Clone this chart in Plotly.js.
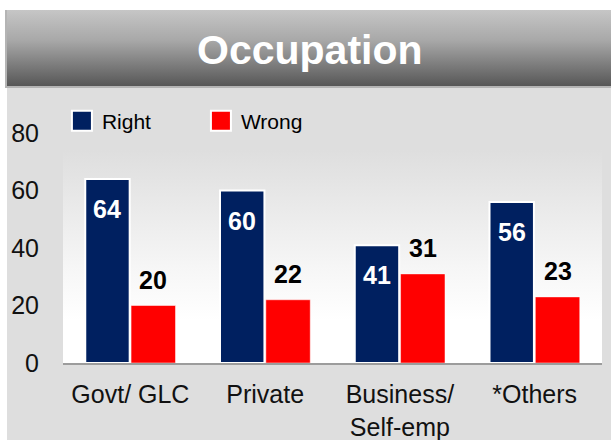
<!DOCTYPE html>
<html>
<head>
<meta charset="utf-8">
<script src="https://cdn.plot.ly/plotly-3.0.1.min.js"></script>
<style>
  html, body { margin: 0; padding: 0; background: #ffffff; }
  #wrap { position: relative; width: 611px; height: 440px; overflow: hidden; }
  #banner { position: absolute; left: 5px; top: 10px; width: 606px; height: 78px;
    background: #b4b4b4; }
  #bannerIn { position: absolute; left: 2px; top: 0px; right: 0px; bottom: 2px;
    background: linear-gradient(to bottom, #c6c6c6 0%, #a8a8a8 40%, #575757 100%); }
  #panel { position: absolute; left: 7px; top: 88px; width: 604px; height: 352px; background: #dedede; }
  #plotbg { position: absolute; left: 63px; top: 150px; width: 539px; height: 213px;
    background: linear-gradient(to bottom, #dedede 0%, #f6f6f6 55%, #ffffff 80%, #ffffff 100%); }
  #chart { position: absolute; left: 0; top: 0; width: 611px; height: 440px; }
</style>
</head>
<body>
<div id="wrap">
  <div id="banner"><div id="bannerIn"></div></div>
  <div id="panel"></div>
  <div id="plotbg"></div>
  <div id="chart"></div>
</div>
<script>
const chartTitle = 'Occupation';
const categories = ['Govt/ GLC', 'Private', 'Business/<br>Self-emp', '*Others'];
const seriesNames = ['Right', 'Wrong'];
const rightValues = [64, 60, 41, 56];
const wrongValues = [20, 22, 31, 23];
const yTickValues = [0, 20, 40, 60, 80];

const FONT = 'Arial, "Liberation Sans", sans-serif';
const NAVY = '#002060';
const RED = '#ff0000';

const traces = [
  {
    type: 'bar', name: seriesNames[0], x: categories, y: rightValues,
    marker: { color: NAVY, line: { color: '#ffffff', width: 2 } },
    hoverinfo: 'x+y+name'
  },
  {
    type: 'bar', name: seriesNames[1], x: categories, y: wrongValues,
    marker: { color: RED, line: { color: '#ffffff', width: 0.5 } },
    hoverinfo: 'x+y+name'
  }
];

const W = 611, H = 440;
const margin = { l: 63, r: 9, t: 133, b: 77, pad: 0 };
const bargap = 0.32;
const plotW = W - margin.l - margin.r;
const slot = plotW / categories.length * (1 - bargap) / 2;

const annotations = [];
categories.forEach((c, i) => {
  annotations.push({
    x: c, y: rightValues[i], xref: 'x', yref: 'y',
    xshift: -slot / 2, yshift: -30, yanchor: 'middle', xanchor: 'center',
    text: '<b>' + rightValues[i] + '</b>', showarrow: false,
    font: { family: FONT, size: 25, color: '#ffffff' }
  });
  annotations.push({
    x: c, y: wrongValues[i], xref: 'x', yref: 'y',
    xshift: slot / 2, yshift: 26, yanchor: 'middle', xanchor: 'center',
    text: '<b>' + wrongValues[i] + '</b>', showarrow: false,
    font: { family: FONT, size: 25, color: '#000000' }
  });
});

const layout = {
  width: W, height: H, margin: margin,
  paper_bgcolor: 'rgba(0,0,0,0)', plot_bgcolor: 'rgba(0,0,0,0)',
  font: { family: FONT, color: '#000000' },
  title: {
    text: '<b>' + chartTitle + '</b>',
    font: { family: FONT, size: 41, color: '#ffffff' },
    x: 0.507, xanchor: 'center', y: 1 - 50 / H, yanchor: 'middle', yref: 'container'
  },
  barmode: 'group', bargap: bargap, bargroupgap: 0.03,
  showlegend: true,
  legend: {
    orientation: 'h', x: -0.002, xanchor: 'left', y: (363 - 121) / 230, yanchor: 'middle',
    font: { family: FONT, size: 21, color: '#000000' },
    bgcolor: 'rgba(0,0,0,0)', entrywidth: 94, entrywidthmode: 'pixels',
    traceorder: 'normal'
  },
  xaxis: {
    type: 'category', showline: true, linecolor: '#9c9c9c', linewidth: 2,
    showgrid: false, zeroline: false, ticks: '', ticklabelstandoff: 8,
    tickfont: { family: FONT, size: 25, color: '#111111' }
  },
  yaxis: {
    range: [0, 80], tickvals: yTickValues, showgrid: false, zeroline: false,
    showline: false, ticks: '', ticklabelstandoff: 23,
    tickfont: { family: FONT, size: 25, color: '#111111' }
  },
  annotations: annotations,
  hovermode: 'closest'
};

// Enlarge the legend swatches to the reference's bigger, white-edged squares
function styleLegendSwatches(gd) {
  gd.querySelectorAll('.legend .legendpoints path').forEach(p => {
    p.setAttribute('d', 'M10,10H-10V-10H10Z');
    p.style.stroke = '#ffffff';
    p.style.strokeWidth = '2px';
  });
}

Plotly.newPlot('chart', traces, layout, { displayModeBar: false }).then(gd => {
  styleLegendSwatches(gd);
  gd.on('plotly_afterplot', () => styleLegendSwatches(gd));
});
</script>
</body>
</html>
